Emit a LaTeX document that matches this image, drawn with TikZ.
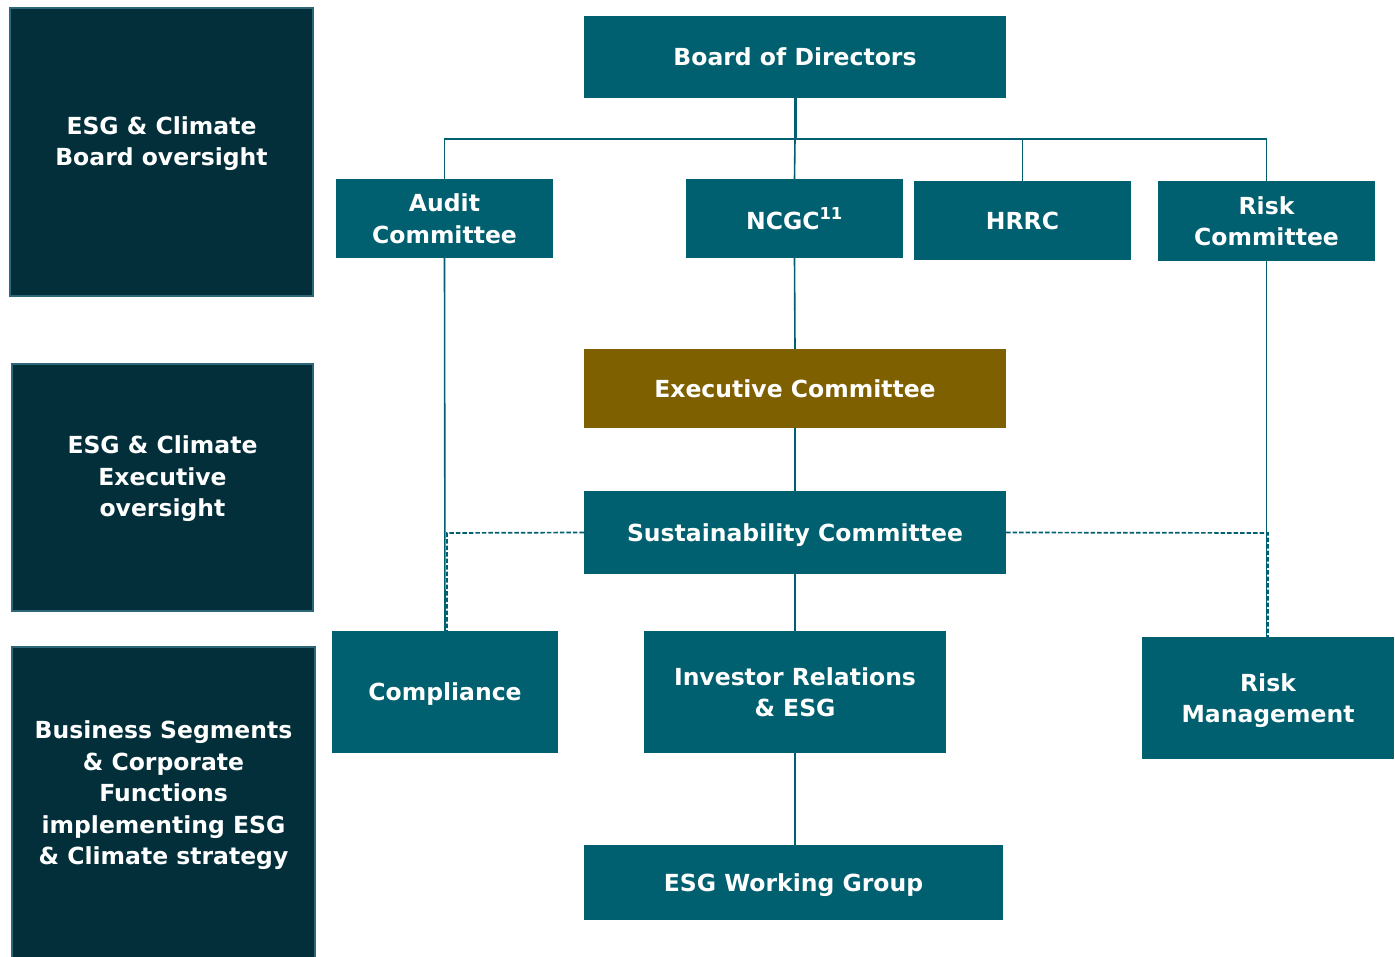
\documentclass[tikz,border=0pt]{standalone}
\usepackage{fontspec}
\setmainfont{DejaVu Sans}
\definecolor{teal}{HTML}{01606F}
\definecolor{darkbg}{HTML}{022F3A}
\definecolor{gold}{HTML}{7F6000}
\definecolor{edge}{HTML}{2E6878}
\begin{document}
\begin{tikzpicture}[x=1pt,y=-1pt,
  txt/.style={text=white,font=\bfseries\fontsize{23.5}{31.5}\selectfont,align=center,inner sep=0pt},
  orgbox/.style={fill=teal,draw=none,txt,text depth=0pt},
  sidebox/.style={fill=darkbg,draw=edge,line width=2pt},
  conn/.style={draw=teal,line width=1.6pt},
  dashconn/.style={draw=teal,line width=1.7pt,dash pattern=on 4.5pt off 2pt}]
\useasboundingbox (0,0) rectangle (1395,957);
% side boxes
\node[sidebox,minimum width=303pt,minimum height=288pt] (s1) at (161.5,152) {};
\node[txt] (s1t) at (161.5,143.5) {ESG \& Climate\\Board oversight};
\node[sidebox,minimum width=301pt,minimum height=247pt] (s2) at (162.5,487.5) {};
\node[txt] (s2t) at (162.5,479) {ESG \& Climate\\Executive\\oversight};
\node[sidebox,minimum width=303pt,minimum height=312pt] (s3) at (163.5,803) {};
\node[txt] (s3t) at (163.5,795.5) {Business Segments\\\& Corporate\\Functions\\implementing ESG\\\& Climate strategy};
% org boxes
\node[orgbox,minimum width=422pt,minimum height=82pt] (bod) at (795,57) {Board of Directors};
\node[orgbox,minimum width=217pt,minimum height=79pt] (audit) at (444.5,218.5) {Audit\\Committee};
\node[orgbox,minimum width=217pt,minimum height=79pt] (ncgc) at (794.5,218.5) {NCGC\textsuperscript{11}};
\node[orgbox,minimum width=217pt,minimum height=79pt] (hrrc) at (1022.5,220.5) {HRRC};
\node[orgbox,minimum width=217pt,minimum height=80pt] (riskc) at (1266.5,221) {Risk\\Committee};
\node[orgbox,fill=gold,minimum width=422pt,minimum height=79pt] (exec) at (795,388.5) {Executive Committee};
\node[orgbox,minimum width=422pt,minimum height=83pt] (sust) at (795,532.5) {Sustainability Committee};
\node[orgbox,minimum width=226pt,minimum height=122pt] (comp) at (445,692) {Compliance};
\node[orgbox,minimum width=302pt,minimum height=122pt] (ir) at (795,692) {Investor Relations\\\& ESG};
\node[orgbox,minimum width=252pt,minimum height=122pt] (riskm) at (1268,698) {Risk\\Management};
\node[orgbox,minimum width=419pt,minimum height=75pt] (wg) at (793.5,882.5) {ESG Working Group};
% connectors
\coordinate (hub) at (795,139);
\draw[conn,line width=3pt] (bod.south) -- (hub);
\draw[conn] (audit.north) |- (hub);
\draw[conn] (riskc.north) |- (hub);
\draw[conn] (hub) -- (ncgc.north);
\draw[conn] (hrrc.north) |- (hub);
\draw[conn] (audit.south) -- (comp.north);
\draw[conn] (ncgc.south) -- (exec.north);
\draw[conn] (exec.south) -- (sust.north);
\draw[conn] (sust.south) -- (ir.north);
\draw[conn] (ir.south) -- (wg.north -| ir.south);
\draw[conn] (riskc.south) -- (riskm.north -| riskc.south);
\coordinate (dl) at (447,533);
\coordinate (dr) at (1268,533);
\draw[dashconn] (sust.west) -- (dl) -- (dl |- comp.north);
\draw[dashconn] (sust.east) -- (dr) -- (dr |- riskm.north);
\end{tikzpicture}
\end{document}
